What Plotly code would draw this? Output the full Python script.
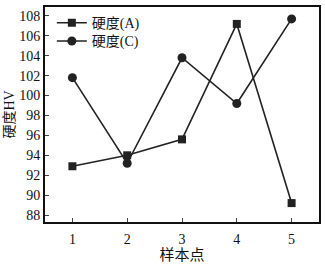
import plotly.graph_objects as go

x_vals = [1, 2, 3, 4, 5]
hard_a = [92.9, 94.0, 95.6, 107.2, 89.2]
hard_c = [101.8, 93.2, 103.8, 99.2, 107.7]
names = ["硬度(A)", "硬度(C)"]
y_ticks = [88, 90, 92, 94, 96, 98, 100, 102, 104, 106, 108]

font = "Liberation Serif, Times New Roman, Noto Sans CJK SC, serif"
col = "#222222"

fig = go.Figure()
fig.add_trace(go.Scatter(x=x_vals, y=hard_a, name=names[0], mode="lines+markers",
                         line=dict(color=col, width=1.6), legend="legend",
                         marker=dict(symbol="square", size=8, color=col)))
fig.add_trace(go.Scatter(x=x_vals, y=hard_c, name=names[1], mode="lines+markers",
                         line=dict(color=col, width=1.6), legend="legend2",
                         marker=dict(symbol="circle", size=9, color=col)))

leg = dict(xanchor="left", yanchor="middle", bgcolor="rgba(0,0,0,0)",
           font=dict(size=14), itemwidth=30)
fig.update_layout(
    width=325, height=265,
    margin=dict(l=45, r=4, t=7, b=36),
    paper_bgcolor="white", plot_bgcolor="white",
    font=dict(family=font, size=14, color="#111"),
    showlegend=True,
    legend=dict(x=0.025, y=0.925, **leg),
    legend2=dict(x=0.025, y=0.84, **leg),
)
fig.update_xaxes(range=[0.5, 5.5], tickvals=x_vals, ticks="inside", ticklen=4,
                 showline=True, linecolor="#111", linewidth=2, mirror=True,
                 showgrid=False, zeroline=False, ticklabelstandoff=3,
                 title=dict(text="样本点", font=dict(size=15), standoff=4))
fig.update_yaxes(range=[87.3, 108.9], tickvals=y_ticks, ticks="inside", ticklen=4,
                 showline=True, linecolor="#111", linewidth=2, mirror=True,
                 showgrid=False, zeroline=False,
                 title=dict(text="硬度HV", font=dict(size=14), standoff=1))

fig.write_html("out.html")
